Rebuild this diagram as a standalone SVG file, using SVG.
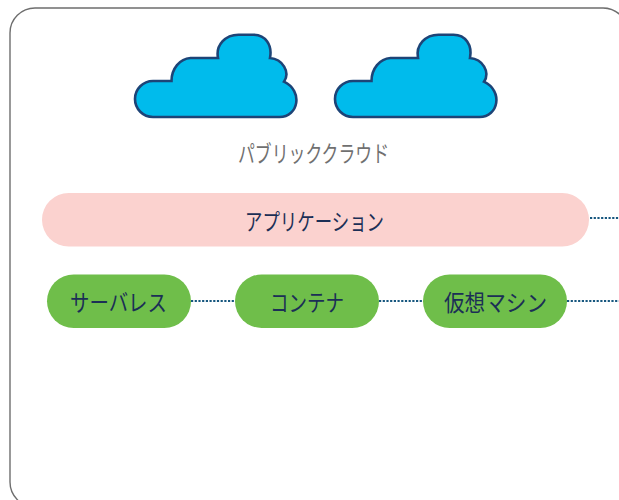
<svg xmlns="http://www.w3.org/2000/svg" width="619" height="500" viewBox="0 0 619 500">
<defs>
<style>
text{font-family:"Noto Sans CJK JP","Noto Sans",sans-serif;text-anchor:middle;font-size:23px;font-weight:400;fill:#1b2f56}
.cloud{fill:#00bbec;stroke:#1d4477;stroke-width:2.6}
.pill{fill:#6fbe4a}
.conn{stroke:#17577f;stroke-width:2;stroke-dasharray:2.2 1.5;fill:none}
</style>
<path id="c" class="cloud" d="M153 117A18 18 0 0 1 153 81H171.500A20 23 0 0 1 190.500 58H218C215.500 45 225.500 34.700 238.500 34.700H253.500C265.500 34.700 272.500 45 270 58C282.500 59 290.500 72 284 81.700C303.500 91 298.500 117 279.500 117Z"/>
</defs>
<rect x="10" y="8" width="618" height="499" rx="25" ry="25" fill="#fff" stroke="#6e6e6e" stroke-width="1.4"/>
<g id="connectors">
<line class="conn" x1="590" y1="218" x2="619" y2="218"/>
<line class="conn" x1="191" y1="301" x2="235" y2="301"/>
<line class="conn" x1="379" y1="301" x2="423" y2="301"/>
<line class="conn" x1="567" y1="301" x2="619" y2="301"/>
</g>
<g id="cloud1"><use href="#c"/></g>
<g id="cloud2"><use href="#c" x="200"/></g>
<g id="public-cloud"><text x="313.500" y="162" textLength="151" lengthAdjust="spacingAndGlyphs" style="fill:#707070">パブリッククラウド</text></g>
<g id="application"><rect x="42" y="193" width="547" height="53.500" rx="26.700" fill="#fbd2cf"/><text x="314.500" y="230" textLength="139" lengthAdjust="spacingAndGlyphs">アプリケーション</text></g>
<g id="serverless"><rect class="pill" x="47" y="274.500" width="144" height="53.500" rx="26.700"/><text x="118.500" y="311" textLength="97" lengthAdjust="spacingAndGlyphs">サーバレス</text></g>
<g id="container"><rect class="pill" x="235" y="274.500" width="144" height="53.500" rx="26.700"/><text x="307" y="311" textLength="74" lengthAdjust="spacingAndGlyphs">コンテナ</text></g>
<g id="vm"><rect class="pill" x="423" y="274.500" width="144" height="53.500" rx="26.700"/><text x="495.500" y="311" textLength="103" lengthAdjust="spacingAndGlyphs">仮想マシン</text></g>
</svg>
